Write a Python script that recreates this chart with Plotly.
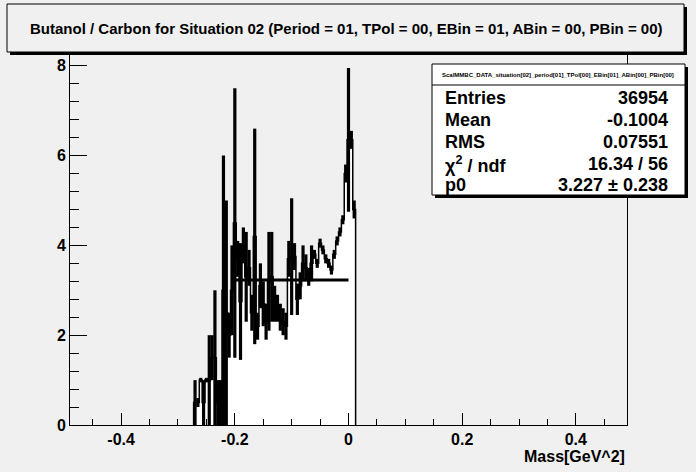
import numpy as np
import plotly.graph_objects as go

# ---------------- data ----------------
bin_width = 0.005
first_edge = -0.2725
contents = [0.5, 0.5, 1.0, 0.5, 1.0, 1.0, 1.5, 1.5, 0.5, 0.5,
            3.0, 2.5, 2.0, 3.0, 4.5, 3.7, 2.75, 4.0, 3.3, 3.5,
            2.5, 4.2, 2.2, 3.1, 2.7, 2.3, 3.2, 3.3, 2.7, 2.6,
            2.4, 2.3, 2.2, 3.7, 3.75, 3.75, 2.8, 3.1, 3.6, 3.5,
            3.3, 3.6, 3.8, 3.6, 4.05, 3.9, 3.7, 3.6, 3.45, 3.8,
            4.1, 4.3, 4.57, 5.6, 6.35, 6.35, 4.8]
errors = [0.5, 0.1, 0.05, 0.5, 0.05, 1.0, 0.5, 1.5, 0.5, 0.5,
          3.0, 2.5, 0.5, 1.0, 3.0, 0.4, 1.3, 0.4, 1.0, 0.4,
          0.4, 2.4, 0.3, 0.5, 0.5, 0.4, 1.1, 1.0, 0.4, 0.3,
          0.3, 0.3, 0.3, 0.4, 1.3, 0.3, 0.35, 0.3, 0.4, 0.3,
          0.2, 0.4, 0.1, 0.1, 0.1, 0.1, 0.1, 0.1, 0.1, 0.1,
          0.1, 0.1, 0.1, 0.2, 1.6, 0.2, 0.2]
fit_range = [-0.2, 0.0]
fit_p0 = 3.227
x_ticks = [-0.4, -0.2, 0.0, 0.2, 0.4]
x_ticklabels = ["-0.4", "-0.2", "0", "0.2", "0.4"]
y_ticks = [0, 2, 4, 6, 8]
y_ticklabels = ["0", "2", "4", "6", "8"]
x_range = [-0.49, 0.49]
y_range = [0, 8.24]
title_text = "Butanol / Carbon for Situation 02 (Period = 01, TPol = 00, EBin = 01, ABin = 00, PBin = 00)"
x_title = "Mass[GeV^2]"
stats_header = "ScalMMBC_DATA_situation[02]_period[01]_TPol[00]_EBin[01]_ABin[00]_PBin[00]"
stats_labels = ["Entries", "Mean", "RMS", "χ<sup>2</sup> / ndf", "p0"]
stats_values = ["36954", "-0.1004", "0.07551", "16.34 / 56", "3.227 ± 0.238"]

# ---------------- derived ----------------
n = len(contents)
edges = first_edge + bin_width * np.arange(n + 1)
centers = 0.5 * (edges[:-1] + edges[1:])
step_x = [edges[0]] + list(edges[:-1]) + [edges[-1]]
step_y = [0] + list(contents) + [0]

BG = "#f0f0f0"
FONT = "Liberation Sans, Arial, Helvetica, sans-serif"
W, H = 696, 472
L, R, T, B = 70, 627, 55, 425


def px(xp):
    return (xp - L) / (R - L)


def py(yp):
    return (B - yp) / (B - T)


fig = go.Figure()
fig.add_trace(go.Scatter(x=step_x, y=step_y, mode="lines", line_shape="hv",
                         line=dict(color="black", width=1.5),
                         fill="tozeroy", fillcolor="white", hoverinfo="skip"))
fig.add_trace(go.Scatter(x=centers, y=contents, mode="markers",
                         marker=dict(size=1, color="black"),
                         error_y=dict(type="data", array=errors, visible=True,
                                      thickness=3.2, width=0, color="black")))
fig.add_trace(go.Scatter(x=fit_range, y=[fit_p0, fit_p0], mode="lines",
                         line=dict(color="black", width=3)))

axis_common = dict(showline=True, linecolor="black", linewidth=1, mirror=True,
                   ticks="inside", tickcolor="black", tickwidth=1,
                   showgrid=False, zeroline=False,
                   tickfont=dict(family=FONT, size=16, color="black", weight="bold"))
fig.update_xaxes(range=x_range, tickvals=x_ticks, ticktext=x_ticklabels, ticklen=12,
                 minor=dict(dtick=0.05, tick0=0, ticklen=6, ticks="inside",
                            tickcolor="black", showgrid=False),
                 **axis_common)
fig.update_yaxes(range=y_range, tickvals=y_ticks, ticktext=y_ticklabels, ticklen=17,
                 minor=dict(dtick=0.4, tick0=0, ticklen=9, ticks="inside",
                            tickcolor="black", showgrid=False),
                 **axis_common)

shapes = []
# title box with shadow
shapes.append(dict(type="rect", xref="paper", yref="paper", x0=px(10), x1=px(687),
                   y0=py(7), y1=py(55), fillcolor="black", line=dict(width=0)))
shapes.append(dict(type="rect", xref="paper", yref="paper", x0=px(7), x1=px(684),
                   y0=py(4), y1=py(52), fillcolor=BG, line=dict(color="black", width=1)))
# stats box with shadow
shapes.append(dict(type="rect", xref="paper", yref="paper", x0=px(435), x1=px(688),
                   y0=py(67), y1=py(198), fillcolor="black", line=dict(width=0)))
shapes.append(dict(type="rect", xref="paper", yref="paper", x0=px(432), x1=px(685),
                   y0=py(64), y1=py(195), fillcolor="white", line=dict(color="black", width=1)))
shapes.append(dict(type="line", xref="paper", yref="paper", x0=px(432), x1=px(685),
                   y0=py(85), y1=py(85), line=dict(color="black", width=1)))

annotations = []
annotations.append(dict(text=title_text, xref="paper", yref="paper", x=px(346), y=py(28),
                        xanchor="center", yanchor="middle", showarrow=False,
                        font=dict(family=FONT, size=15, color="black", weight="bold")))
annotations.append(dict(text=x_title, xref="paper", yref="paper", x=px(627), y=py(456),
                        xanchor="right", yanchor="middle", showarrow=False,
                        font=dict(family=FONT, size=16, color="black", weight="bold")))
annotations.append(dict(text=stats_header, xref="paper", yref="paper", x=px(558), y=py(75),
                        xanchor="center", yanchor="middle", showarrow=False,
                        font=dict(family=FONT, size=6, color="black", weight="bold")))
row_y = [98, 120, 142, 164, 185]
for lab, val, yy in zip(stats_labels, stats_values, row_y):
    annotations.append(dict(text=lab, xref="paper", yref="paper", x=px(443), y=py(yy),
                            xanchor="left", yanchor="middle", showarrow=False,
                            font=dict(family=FONT, size=18, color="black", weight="bold")))
    annotations.append(dict(text=val, xref="paper", yref="paper", x=px(670), y=py(yy),
                            xanchor="right", yanchor="middle", showarrow=False,
                            font=dict(family=FONT, size=18, color="black", weight="bold")))

fig.update_layout(width=W, height=H, margin=dict(l=L, r=W - R, t=T, b=H - B),
                  paper_bgcolor=BG, plot_bgcolor=BG, showlegend=False,
                  shapes=shapes, annotations=annotations)

fig.write_html("out.html", config={"displayModeBar": False},
               post_script="document.body.style.margin='0';document.body.style.overflow='hidden';")
